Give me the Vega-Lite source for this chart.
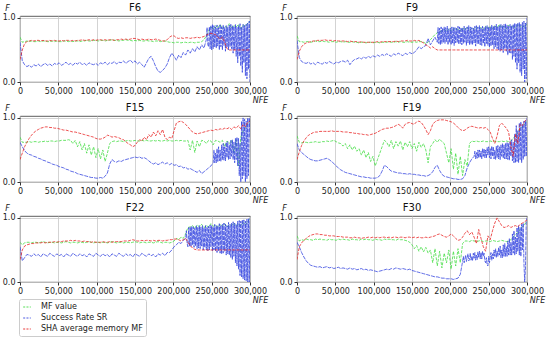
{
"$schema":"https://vega.github.io/schema/vega-lite/v6.json",
"padding":{"left":1,"top":2,"right":3,"bottom":2},
"data":{"values":[
{"p":"F6","x":0,"g":0.70,"b":0.62,"r":0.35},{"p":"F6","x":3000,"g":0.62,"b":0.33,"r":0.50},{"p":"F6","x":6000,"g":0.63,"b":0.27,"r":0.60},{"p":"F6","x":9000,"g":0.64,"b":0.24,"r":0.63},{"p":"F6","x":12000,"g":0.63,"b":0.26,"r":0.64},{"p":"F6","x":15000,"g":0.64,"b":0.23,"r":0.65},{"p":"F6","x":18000,"g":0.63,"b":0.27,"r":0.64},{"p":"F6","x":21000,"g":0.63,"b":0.25,"r":0.65},{"p":"F6","x":24000,"g":0.64,"b":0.28,"r":0.65},{"p":"F6","x":27000,"g":0.63,"b":0.24,"r":0.64},
{"p":"F6","x":30000,"g":0.64,"b":0.27,"r":0.65},{"p":"F6","x":33000,"g":0.64,"b":0.29,"r":0.64},{"p":"F6","x":36000,"g":0.63,"b":0.26,"r":0.64},{"p":"F6","x":39000,"g":0.63,"b":0.28,"r":0.65},{"p":"F6","x":42000,"g":0.64,"b":0.25,"r":0.64},{"p":"F6","x":45000,"g":0.63,"b":0.29,"r":0.65},{"p":"F6","x":48000,"g":0.64,"b":0.27,"r":0.64},{"p":"F6","x":51000,"g":0.63,"b":0.30,"r":0.64},{"p":"F6","x":54000,"g":0.63,"b":0.26,"r":0.65},{"p":"F6","x":57000,"g":0.64,"b":0.28,"r":0.64},
{"p":"F6","x":60000,"g":0.64,"b":0.31,"r":0.65},{"p":"F6","x":63000,"g":0.63,"b":0.27,"r":0.65},{"p":"F6","x":66000,"g":0.64,"b":0.29,"r":0.64},{"p":"F6","x":69000,"g":0.63,"b":0.26,"r":0.65},{"p":"F6","x":72000,"g":0.64,"b":0.30,"r":0.64},{"p":"F6","x":75000,"g":0.64,"b":0.28,"r":0.65},{"p":"F6","x":78000,"g":0.63,"b":0.31,"r":0.65},{"p":"F6","x":81000,"g":0.64,"b":0.27,"r":0.66},{"p":"F6","x":84000,"g":0.64,"b":0.29,"r":0.65},{"p":"F6","x":87000,"g":0.65,"b":0.26,"r":0.65},
{"p":"F6","x":90000,"g":0.64,"b":0.30,"r":0.66},{"p":"F6","x":93000,"g":0.64,"b":0.28,"r":0.65},{"p":"F6","x":96000,"g":0.65,"b":0.27,"r":0.66},{"p":"F6","x":99000,"g":0.65,"b":0.29,"r":0.65},{"p":"F6","x":102000,"g":0.64,"b":0.26,"r":0.66},{"p":"F6","x":105000,"g":0.65,"b":0.30,"r":0.66},{"p":"F6","x":108000,"g":0.65,"b":0.28,"r":0.65},{"p":"F6","x":111000,"g":0.64,"b":0.31,"r":0.66},{"p":"F6","x":114000,"g":0.65,"b":0.27,"r":0.65},{"p":"F6","x":117000,"g":0.65,"b":0.30,"r":0.66},
{"p":"F6","x":120000,"g":0.66,"b":0.29,"r":0.66},{"p":"F6","x":123000,"g":0.65,"b":0.32,"r":0.65},{"p":"F6","x":126000,"g":0.65,"b":0.28,"r":0.66},{"p":"F6","x":129000,"g":0.64,"b":0.31,"r":0.66},{"p":"F6","x":132000,"g":0.65,"b":0.30,"r":0.67},{"p":"F6","x":135000,"g":0.65,"b":0.33,"r":0.66},{"p":"F6","x":138000,"g":0.66,"b":0.29,"r":0.67},{"p":"F6","x":141000,"g":0.65,"b":0.32,"r":0.66},{"p":"F6","x":144000,"g":0.65,"b":0.34,"r":0.67},{"p":"F6","x":147000,"g":0.64,"b":0.30,"r":0.68},
{"p":"F6","x":150000,"g":0.65,"b":0.33,"r":0.68},{"p":"F6","x":153000,"g":0.64,"b":0.28,"r":0.67},{"p":"F6","x":156000,"g":0.65,"b":0.31,"r":0.66},{"p":"F6","x":159000,"g":0.64,"b":0.27,"r":0.67},{"p":"F6","x":162000,"g":0.64,"b":0.23,"r":0.66},{"p":"F6","x":165000,"g":0.65,"b":0.30,"r":0.66},{"p":"F6","x":168000,"g":0.64,"b":0.37,"r":0.67},{"p":"F6","x":171000,"g":0.64,"b":0.40,"r":0.66},{"p":"F6","x":174000,"g":0.63,"b":0.33,"r":0.66},{"p":"F6","x":177000,"g":0.64,"b":0.24,"r":0.67},
{"p":"F6","x":180000,"g":0.64,"b":0.17,"r":0.66},{"p":"F6","x":183000,"g":0.63,"b":0.15,"r":0.65},{"p":"F6","x":186000,"g":0.64,"b":0.18,"r":0.64},{"p":"F6","x":189000,"g":0.64,"b":0.22,"r":0.64},{"p":"F6","x":192000,"g":0.63,"b":0.28,"r":0.66},{"p":"F6","x":195000,"g":0.62,"b":0.38,"r":0.70},{"p":"F6","x":198000,"g":0.62,"b":0.45,"r":0.72},{"p":"F6","x":201000,"g":0.61,"b":0.40,"r":0.72},{"p":"F6","x":204000,"g":0.62,"b":0.34,"r":0.69},{"p":"F6","x":207000,"g":0.62,"b":0.42,"r":0.68},
{"p":"F6","x":210000,"g":0.61,"b":0.38,"r":0.69},{"p":"F6","x":213000,"g":0.62,"b":0.46,"r":0.68},{"p":"F6","x":216000,"g":0.62,"b":0.42,"r":0.69},{"p":"F6","x":219000,"g":0.61,"b":0.50,"r":0.69},{"p":"F6","x":222000,"g":0.62,"b":0.45,"r":0.68},{"p":"F6","x":225000,"g":0.62,"b":0.52,"r":0.69},{"p":"F6","x":228000,"g":0.61,"b":0.47,"r":0.69},{"p":"F6","x":231000,"g":0.62,"b":0.55,"r":0.70},{"p":"F6","x":234000,"g":0.62,"b":0.50,"r":0.69},{"p":"F6","x":237000,"g":0.63,"b":0.58,"r":0.70},
{"p":"F6","x":240000,"g":0.66,"b":0.53,"r":0.71},{"p":"F6","x":243000,"g":0.72,"b":0.66,"r":0.73},{"p":"F6","x":246000,"g":0.80,"b":0.55,"r":0.75},{"p":"F6","x":249000,"g":0.86,"b":0.88,"r":0.76},{"p":"F6","x":252000,"g":0.82,"b":0.52,"r":0.75},{"p":"F6","x":255000,"g":0.88,"b":0.86,"r":0.74},{"p":"F6","x":258000,"g":0.84,"b":0.56,"r":0.70},{"p":"F6","x":261000,"g":0.90,"b":0.90,"r":0.67},{"p":"F6","x":264000,"g":0.83,"b":0.50,"r":0.70},{"p":"F6","x":267000,"g":0.87,"b":0.85,"r":0.62},
{"p":"F6","x":270000,"g":0.85,"b":0.54,"r":0.52},{"p":"F6","x":273000,"g":0.91,"b":0.89,"r":0.50},{"p":"F6","x":276000,"g":0.84,"b":0.52,"r":0.50},{"p":"F6","x":279000,"g":0.88,"b":0.87,"r":0.50},{"p":"F6","x":282000,"g":0.86,"b":0.40,"r":0.50},{"p":"F6","x":285000,"g":0.90,"b":0.88,"r":0.50},{"p":"F6","x":288000,"g":0.83,"b":0.25,"r":0.50},{"p":"F6","x":291000,"g":0.89,"b":0.90,"r":0.50},{"p":"F6","x":294000,"g":0.87,"b":0.10,"r":0.50},{"p":"F6","x":297000,"g":0.92,"b":0.92,"r":0.50},{"p":"F6","x":300000,"g":0.95,"b":0.00,"r":0.50},
{"p":"F6","x":244000,"b":0.85},{"p":"F6","x":245000,"b":0.58},{"p":"F6","x":247000,"b":0.86},{"p":"F6","x":248000,"b":0.52},{"p":"F6","x":250000,"b":0.50},{"p":"F6","x":251000,"b":0.90},{"p":"F6","x":253000,"b":0.88},{"p":"F6","x":254000,"b":0.55},{"p":"F6","x":256000,"b":0.53},{"p":"F6","x":257000,"b":0.89},{"p":"F6","x":259000,"b":0.85},{"p":"F6","x":260000,"b":0.50},{"p":"F6","x":262000,"b":0.55},{"p":"F6","x":263000,"b":0.86},{"p":"F6","x":265000,"b":0.89},{"p":"F6","x":266000,"b":0.57},{"p":"F6","x":268000,"b":0.48},{"p":"F6","x":269000,"b":0.88},{"p":"F6","x":271000,"b":0.86},{"p":"F6","x":272000,"b":0.50},{"p":"F6","x":274000,"b":0.55},{"p":"F6","x":275000,"b":0.90},{"p":"F6","x":277000,"b":0.88},{"p":"F6","x":278000,"b":0.45},{"p":"F6","x":280000,"b":0.50},{"p":"F6","x":281000,"b":0.90},{"p":"F6","x":283000,"b":0.86},{"p":"F6","x":284000,"b":0.30},{"p":"F6","x":286000,"b":0.40},{"p":"F6","x":287000,"b":0.91},{"p":"F6","x":289000,"b":0.85},{"p":"F6","x":290000,"b":0.15},{"p":"F6","x":292000,"b":0.30},{"p":"F6","x":293000,"b":0.88},{"p":"F6","x":295000,"b":0.90},{"p":"F6","x":296000,"b":0.05},{"p":"F6","x":298000,"b":0.20},{"p":"F6","x":299000,"b":0.95},

{"p":"F9","x":0,"g":0.72,"b":0.65,"r":0.35},{"p":"F9","x":3000,"g":0.63,"b":0.38,"r":0.48},{"p":"F9","x":6000,"g":0.63,"b":0.32,"r":0.55},{"p":"F9","x":9000,"g":0.62,"b":0.30,"r":0.59},{"p":"F9","x":12000,"g":0.63,"b":0.29,"r":0.61},{"p":"F9","x":15000,"g":0.63,"b":0.31,"r":0.62},{"p":"F9","x":18000,"g":0.62,"b":0.28,"r":0.63},{"p":"F9","x":21000,"g":0.63,"b":0.30,"r":0.64},{"p":"F9","x":24000,"g":0.64,"b":0.27,"r":0.64},{"p":"F9","x":27000,"g":0.63,"b":0.31,"r":0.65},
{"p":"F9","x":30000,"g":0.63,"b":0.29,"r":0.65},{"p":"F9","x":33000,"g":0.64,"b":0.28,"r":0.65},{"p":"F9","x":36000,"g":0.63,"b":0.31,"r":0.66},{"p":"F9","x":39000,"g":0.63,"b":0.29,"r":0.65},{"p":"F9","x":42000,"g":0.62,"b":0.32,"r":0.65},{"p":"F9","x":45000,"g":0.63,"b":0.30,"r":0.65},{"p":"F9","x":48000,"g":0.63,"b":0.28,"r":0.64},{"p":"F9","x":51000,"g":0.62,"b":0.31,"r":0.65},{"p":"F9","x":54000,"g":0.63,"b":0.30,"r":0.64},{"p":"F9","x":57000,"g":0.63,"b":0.32,"r":0.64},
{"p":"F9","x":60000,"g":0.62,"b":0.33,"r":0.64},{"p":"F9","x":63000,"g":0.63,"b":0.31,"r":0.64},{"p":"F9","x":66000,"g":0.62,"b":0.34,"r":0.63},{"p":"F9","x":69000,"g":0.62,"b":0.27,"r":0.64},{"p":"F9","x":72000,"g":0.63,"b":0.32,"r":0.63},{"p":"F9","x":75000,"g":0.62,"b":0.35,"r":0.63},{"p":"F9","x":78000,"g":0.62,"b":0.36,"r":0.63},{"p":"F9","x":81000,"g":0.61,"b":0.38,"r":0.62},{"p":"F9","x":84000,"g":0.62,"b":0.36,"r":0.63},{"p":"F9","x":87000,"g":0.62,"b":0.39,"r":0.62},
{"p":"F9","x":90000,"g":0.61,"b":0.37,"r":0.62},{"p":"F9","x":93000,"g":0.62,"b":0.40,"r":0.62},{"p":"F9","x":96000,"g":0.62,"b":0.38,"r":0.62},{"p":"F9","x":99000,"g":0.61,"b":0.41,"r":0.62},{"p":"F9","x":102000,"g":0.62,"b":0.39,"r":0.62},{"p":"F9","x":105000,"g":0.62,"b":0.42,"r":0.63},{"p":"F9","x":108000,"g":0.61,"b":0.40,"r":0.62},{"p":"F9","x":111000,"g":0.62,"b":0.43,"r":0.63},{"p":"F9","x":114000,"g":0.62,"b":0.41,"r":0.63},{"p":"F9","x":117000,"g":0.62,"b":0.44,"r":0.63},
{"p":"F9","x":120000,"g":0.63,"b":0.42,"r":0.63},{"p":"F9","x":123000,"g":0.62,"b":0.40,"r":0.63},{"p":"F9","x":126000,"g":0.62,"b":0.44,"r":0.63},{"p":"F9","x":129000,"g":0.63,"b":0.42,"r":0.64},{"p":"F9","x":132000,"g":0.62,"b":0.45,"r":0.63},{"p":"F9","x":135000,"g":0.63,"b":0.43,"r":0.64},{"p":"F9","x":138000,"g":0.62,"b":0.41,"r":0.64},{"p":"F9","x":141000,"g":0.62,"b":0.45,"r":0.64},{"p":"F9","x":144000,"g":0.63,"b":0.43,"r":0.65},{"p":"F9","x":147000,"g":0.62,"b":0.46,"r":0.64},
{"p":"F9","x":150000,"g":0.62,"b":0.44,"r":0.64},{"p":"F9","x":153000,"g":0.63,"b":0.46,"r":0.65},{"p":"F9","x":156000,"g":0.62,"b":0.50,"r":0.64},{"p":"F9","x":159000,"g":0.63,"b":0.55,"r":0.65},{"p":"F9","x":162000,"g":0.63,"b":0.52,"r":0.63},{"p":"F9","x":165000,"g":0.62,"b":0.55,"r":0.61},{"p":"F9","x":168000,"g":0.60,"b":0.57,"r":0.58},{"p":"F9","x":171000,"g":0.62,"b":0.68,"r":0.56},{"p":"F9","x":174000,"g":0.66,"b":0.58,"r":0.53},{"p":"F9","x":177000,"g":0.70,"b":0.64,"r":0.55},
{"p":"F9","x":180000,"g":0.74,"b":0.70,"r":0.52},{"p":"F9","x":183000,"g":0.77,"b":0.62,"r":0.50},{"p":"F9","x":186000,"g":0.78,"b":0.84,"r":0.50},{"p":"F9","x":189000,"g":0.80,"b":0.60,"r":0.50},{"p":"F9","x":192000,"g":0.82,"b":0.86,"r":0.50},{"p":"F9","x":195000,"g":0.79,"b":0.63,"r":0.50},{"p":"F9","x":198000,"g":0.83,"b":0.83,"r":0.50},{"p":"F9","x":201000,"g":0.80,"b":0.58,"r":0.50},{"p":"F9","x":204000,"g":0.84,"b":0.85,"r":0.50},{"p":"F9","x":207000,"g":0.81,"b":0.61,"r":0.50},
{"p":"F9","x":210000,"g":0.83,"b":0.87,"r":0.50},{"p":"F9","x":213000,"g":0.80,"b":0.60,"r":0.50},{"p":"F9","x":216000,"g":0.84,"b":0.84,"r":0.50},{"p":"F9","x":219000,"g":0.82,"b":0.62,"r":0.50},{"p":"F9","x":222000,"g":0.85,"b":0.86,"r":0.50},{"p":"F9","x":225000,"g":0.81,"b":0.58,"r":0.50},{"p":"F9","x":228000,"g":0.84,"b":0.85,"r":0.50},{"p":"F9","x":231000,"g":0.82,"b":0.61,"r":0.50},{"p":"F9","x":234000,"g":0.86,"b":0.88,"r":0.50},{"p":"F9","x":237000,"g":0.83,"b":0.59,"r":0.50},
{"p":"F9","x":240000,"g":0.85,"b":0.85,"r":0.50},{"p":"F9","x":243000,"g":0.82,"b":0.60,"r":0.50},{"p":"F9","x":246000,"g":0.87,"b":0.87,"r":0.50},{"p":"F9","x":249000,"g":0.84,"b":0.57,"r":0.50},{"p":"F9","x":252000,"g":0.86,"b":0.86,"r":0.50},{"p":"F9","x":255000,"g":0.83,"b":0.58,"r":0.50},{"p":"F9","x":258000,"g":0.88,"b":0.88,"r":0.50},{"p":"F9","x":261000,"g":0.84,"b":0.52,"r":0.50},{"p":"F9","x":264000,"g":0.90,"b":0.88,"r":0.50},{"p":"F9","x":267000,"g":0.85,"b":0.50,"r":0.50},
{"p":"F9","x":270000,"g":0.87,"b":0.90,"r":0.50},{"p":"F9","x":273000,"g":0.83,"b":0.48,"r":0.50},{"p":"F9","x":276000,"g":0.89,"b":0.87,"r":0.50},{"p":"F9","x":279000,"g":0.85,"b":0.45,"r":0.50},{"p":"F9","x":282000,"g":0.88,"b":0.90,"r":0.50},{"p":"F9","x":285000,"g":0.84,"b":0.30,"r":0.50},{"p":"F9","x":288000,"g":0.90,"b":0.92,"r":0.50},{"p":"F9","x":291000,"g":0.86,"b":0.15,"r":0.50},{"p":"F9","x":294000,"g":0.88,"b":0.93,"r":0.50},{"p":"F9","x":297000,"g":0.85,"b":0.00,"r":0.50},{"p":"F9","x":300000,"g":0.92,"b":1.00,"r":0.50},
{"p":"F9","x":184000,"b":0.85},{"p":"F9","x":185000,"b":0.60},{"p":"F9","x":187000,"b":0.58},{"p":"F9","x":188000,"b":0.86},{"p":"F9","x":190000,"b":0.84},{"p":"F9","x":191000,"b":0.62},{"p":"F9","x":193000,"b":0.60},{"p":"F9","x":194000,"b":0.85},{"p":"F9","x":196000,"b":0.87},{"p":"F9","x":197000,"b":0.58},{"p":"F9","x":199000,"b":0.62},{"p":"F9","x":200000,"b":0.84},{"p":"F9","x":202000,"b":0.86},{"p":"F9","x":203000,"b":0.60},{"p":"F9","x":205000,"b":0.57},{"p":"F9","x":206000,"b":0.85},{"p":"F9","x":208000,"b":0.84},{"p":"F9","x":209000,"b":0.62},{"p":"F9","x":211000,"b":0.59},{"p":"F9","x":212000,"b":0.86},{"p":"F9","x":214000,"b":0.85},{"p":"F9","x":215000,"b":0.58},{"p":"F9","x":217000,"b":0.60},{"p":"F9","x":218000,"b":0.87},{"p":"F9","x":220000,"b":0.84},{"p":"F9","x":221000,"b":0.57},{"p":"F9","x":223000,"b":0.61},{"p":"F9","x":224000,"b":0.88},{"p":"F9","x":226000,"b":0.86},{"p":"F9","x":227000,"b":0.59},{"p":"F9","x":229000,"b":0.58},{"p":"F9","x":230000,"b":0.84},{"p":"F9","x":232000,"b":0.87},{"p":"F9","x":233000,"b":0.56},{"p":"F9","x":235000,"b":0.60},{"p":"F9","x":236000,"b":0.86},{"p":"F9","x":238000,"b":0.88},{"p":"F9","x":239000,"b":0.58},
{"p":"F9","x":241000,"b":0.57},{"p":"F9","x":242000,"b":0.87},{"p":"F9","x":244000,"b":0.85},{"p":"F9","x":245000,"b":0.55},{"p":"F9","x":247000,"b":0.60},{"p":"F9","x":248000,"b":0.88},{"p":"F9","x":250000,"b":0.86},{"p":"F9","x":251000,"b":0.54},{"p":"F9","x":253000,"b":0.56},{"p":"F9","x":254000,"b":0.89},{"p":"F9","x":256000,"b":0.87},{"p":"F9","x":257000,"b":0.52},{"p":"F9","x":259000,"b":0.55},{"p":"F9","x":260000,"b":0.90},{"p":"F9","x":262000,"b":0.87},{"p":"F9","x":263000,"b":0.50},{"p":"F9","x":265000,"b":0.48},{"p":"F9","x":266000,"b":0.90},{"p":"F9","x":268000,"b":0.88},{"p":"F9","x":269000,"b":0.46},{"p":"F9","x":271000,"b":0.52},{"p":"F9","x":272000,"b":0.91},{"p":"F9","x":274000,"b":0.89},{"p":"F9","x":275000,"b":0.42},{"p":"F9","x":277000,"b":0.45},{"p":"F9","x":278000,"b":0.90},{"p":"F9","x":280000,"b":0.88},{"p":"F9","x":281000,"b":0.35},{"p":"F9","x":283000,"b":0.40},{"p":"F9","x":284000,"b":0.92},{"p":"F9","x":286000,"b":0.90},{"p":"F9","x":287000,"b":0.20},{"p":"F9","x":289000,"b":0.30},{"p":"F9","x":290000,"b":0.93},{"p":"F9","x":292000,"b":0.90},{"p":"F9","x":293000,"b":0.10},{"p":"F9","x":295000,"b":0.20},{"p":"F9","x":296000,"b":0.95},{"p":"F9","x":298000,"b":0.92},{"p":"F9","x":299000,"b":0.05},

{"p":"F15","x":0,"g":0.70,"b":0.62,"r":0.35},{"p":"F15","x":3000,"g":0.62,"b":0.55,"r":0.45},{"p":"F15","x":6000,"g":0.62,"b":0.49,"r":0.55},{"p":"F15","x":9000,"g":0.62,"b":0.45,"r":0.62},{"p":"F15","x":12000,"g":0.63,"b":0.43,"r":0.68},{"p":"F15","x":15000,"g":0.62,"b":0.42,"r":0.73},{"p":"F15","x":18000,"g":0.63,"b":0.40,"r":0.77},{"p":"F15","x":21000,"g":0.63,"b":0.39,"r":0.80},{"p":"F15","x":24000,"g":0.62,"b":0.37,"r":0.82},{"p":"F15","x":27000,"g":0.63,"b":0.36,"r":0.84},
{"p":"F15","x":30000,"g":0.63,"b":0.34,"r":0.85},{"p":"F15","x":33000,"g":0.64,"b":0.33,"r":0.86},{"p":"F15","x":36000,"g":0.63,"b":0.31,"r":0.86},{"p":"F15","x":39000,"g":0.64,"b":0.30,"r":0.85},{"p":"F15","x":42000,"g":0.64,"b":0.28,"r":0.85},{"p":"F15","x":45000,"g":0.63,"b":0.27,"r":0.84},{"p":"F15","x":48000,"g":0.64,"b":0.26,"r":0.84},{"p":"F15","x":51000,"g":0.64,"b":0.24,"r":0.83},{"p":"F15","x":54000,"g":0.65,"b":0.23,"r":0.82},{"p":"F15","x":57000,"g":0.65,"b":0.22,"r":0.81},
{"p":"F15","x":60000,"g":0.65,"b":0.20,"r":0.81},{"p":"F15","x":63000,"g":0.66,"b":0.19,"r":0.80},{"p":"F15","x":66000,"g":0.65,"b":0.17,"r":0.79},{"p":"F15","x":69000,"g":0.60,"b":0.16,"r":0.78},{"p":"F15","x":72000,"g":0.65,"b":0.15,"r":0.78},{"p":"F15","x":75000,"g":0.55,"b":0.13,"r":0.77},{"p":"F15","x":78000,"g":0.63,"b":0.12,"r":0.76},{"p":"F15","x":81000,"g":0.50,"b":0.11,"r":0.75},{"p":"F15","x":84000,"g":0.60,"b":0.10,"r":0.74},{"p":"F15","x":87000,"g":0.45,"b":0.09,"r":0.73},
{"p":"F15","x":90000,"g":0.58,"b":0.08,"r":0.72},{"p":"F15","x":93000,"g":0.42,"b":0.07,"r":0.71},{"p":"F15","x":96000,"g":0.55,"b":0.07,"r":0.70},{"p":"F15","x":99000,"g":0.38,"b":0.06,"r":0.68},{"p":"F15","x":102000,"g":0.52,"b":0.06,"r":0.67},{"p":"F15","x":105000,"g":0.36,"b":0.07,"r":0.67},{"p":"F15","x":108000,"g":0.50,"b":0.06,"r":0.68},{"p":"F15","x":111000,"g":0.32,"b":0.09,"r":0.70},{"p":"F15","x":114000,"g":0.45,"b":0.14,"r":0.73},{"p":"F15","x":117000,"g":0.60,"b":0.28,"r":0.72},
{"p":"F15","x":120000,"g":0.63,"b":0.35,"r":0.70},{"p":"F15","x":123000,"g":0.64,"b":0.32,"r":0.71},{"p":"F15","x":126000,"g":0.63,"b":0.31,"r":0.70},{"p":"F15","x":129000,"g":0.64,"b":0.33,"r":0.69},{"p":"F15","x":132000,"g":0.64,"b":0.32,"r":0.67},{"p":"F15","x":135000,"g":0.63,"b":0.34,"r":0.66},{"p":"F15","x":138000,"g":0.64,"b":0.35,"r":0.63},{"p":"F15","x":141000,"g":0.65,"b":0.36,"r":0.60},{"p":"F15","x":144000,"g":0.64,"b":0.37,"r":0.58},{"p":"F15","x":147000,"g":0.64,"b":0.38,"r":0.55},
{"p":"F15","x":150000,"g":0.65,"b":0.39,"r":0.57},{"p":"F15","x":153000,"g":0.64,"b":0.38,"r":0.62},{"p":"F15","x":156000,"g":0.64,"b":0.39,"r":0.66},{"p":"F15","x":159000,"g":0.65,"b":0.37,"r":0.64},{"p":"F15","x":162000,"g":0.64,"b":0.38,"r":0.70},{"p":"F15","x":165000,"g":0.65,"b":0.36,"r":0.66},{"p":"F15","x":168000,"g":0.64,"b":0.33,"r":0.74},{"p":"F15","x":171000,"g":0.64,"b":0.30,"r":0.70},{"p":"F15","x":174000,"g":0.65,"b":0.28,"r":0.78},{"p":"F15","x":177000,"g":0.64,"b":0.30,"r":0.72},
{"p":"F15","x":180000,"g":0.65,"b":0.27,"r":0.80},{"p":"F15","x":183000,"g":0.64,"b":0.29,"r":0.74},{"p":"F15","x":186000,"g":0.64,"b":0.31,"r":0.82},{"p":"F15","x":189000,"g":0.65,"b":0.28,"r":0.70},{"p":"F15","x":192000,"g":0.64,"b":0.30,"r":0.66},{"p":"F15","x":195000,"g":0.65,"b":0.27,"r":0.70},{"p":"F15","x":198000,"g":0.64,"b":0.29,"r":0.68},{"p":"F15","x":201000,"g":0.64,"b":0.26,"r":0.80},{"p":"F15","x":204000,"g":0.65,"b":0.27,"r":0.92},{"p":"F15","x":207000,"g":0.64,"b":0.24,"r":0.94},
{"p":"F15","x":210000,"g":0.65,"b":0.25,"r":0.95},{"p":"F15","x":213000,"g":0.64,"b":0.22,"r":0.93},{"p":"F15","x":216000,"g":0.64,"b":0.23,"r":0.90},{"p":"F15","x":219000,"g":0.65,"b":0.20,"r":0.86},{"p":"F15","x":222000,"g":0.50,"b":0.21,"r":0.82},{"p":"F15","x":225000,"g":0.65,"b":0.19,"r":0.78},{"p":"F15","x":228000,"g":0.46,"b":0.17,"r":0.76},{"p":"F15","x":231000,"g":0.64,"b":0.15,"r":0.75},{"p":"F15","x":234000,"g":0.55,"b":0.18,"r":0.76},{"p":"F15","x":237000,"g":0.65,"b":0.13,"r":0.77},
{"p":"F15","x":240000,"g":0.64,"b":0.16,"r":0.78},{"p":"F15","x":243000,"g":0.60,"b":0.19,"r":0.79},{"p":"F15","x":246000,"g":0.65,"b":0.22,"r":0.80},{"p":"F15","x":249000,"g":0.64,"b":0.25,"r":0.81},{"p":"F15","x":252000,"g":0.58,"b":0.30,"r":0.80},{"p":"F15","x":255000,"g":0.65,"b":0.45,"r":0.82},{"p":"F15","x":258000,"g":0.64,"b":0.32,"r":0.81},{"p":"F15","x":261000,"g":0.62,"b":0.50,"r":0.83},{"p":"F15","x":264000,"g":0.65,"b":0.35,"r":0.82},{"p":"F15","x":267000,"g":0.55,"b":0.55,"r":0.84},
{"p":"F15","x":270000,"g":0.64,"b":0.38,"r":0.83},{"p":"F15","x":273000,"g":0.60,"b":0.58,"r":0.85},{"p":"F15","x":276000,"g":0.65,"b":0.40,"r":0.82},{"p":"F15","x":279000,"g":0.45,"b":0.62,"r":0.86},{"p":"F15","x":282000,"g":0.66,"b":0.35,"r":0.84},{"p":"F15","x":285000,"g":0.25,"b":0.68,"r":0.88},{"p":"F15","x":288000,"g":0.70,"b":0.00,"r":0.83},{"p":"F15","x":291000,"g":0.80,"b":1.00,"r":0.90},{"p":"F15","x":294000,"g":0.85,"b":0.00,"r":0.86},{"p":"F15","x":297000,"g":0.90,"b":1.00,"r":0.93},{"p":"F15","x":300000,"g":0.95,"b":0.70,"r":0.95},
{"p":"F15","x":253000,"b":0.50},{"p":"F15","x":254000,"b":0.30},{"p":"F15","x":256000,"b":0.30},{"p":"F15","x":257000,"b":0.52},{"p":"F15","x":259000,"b":0.55},{"p":"F15","x":260000,"b":0.33},{"p":"F15","x":262000,"b":0.32},{"p":"F15","x":263000,"b":0.58},{"p":"F15","x":265000,"b":0.60},{"p":"F15","x":266000,"b":0.34},{"p":"F15","x":268000,"b":0.33},{"p":"F15","x":269000,"b":0.62},{"p":"F15","x":271000,"b":0.63},{"p":"F15","x":272000,"b":0.35},{"p":"F15","x":274000,"b":0.36},{"p":"F15","x":275000,"b":0.65},{"p":"F15","x":277000,"b":0.66},{"p":"F15","x":278000,"b":0.35},{"p":"F15","x":280000,"b":0.30},{"p":"F15","x":281000,"b":0.68},{"p":"F15","x":283000,"b":0.70},{"p":"F15","x":284000,"b":0.25},{"p":"F15","x":286000,"b":0.10},{"p":"F15","x":287000,"b":0.60},{"p":"F15","x":289000,"b":0.95},{"p":"F15","x":290000,"b":0.05},{"p":"F15","x":292000,"b":0.10},{"p":"F15","x":293000,"b":0.98},{"p":"F15","x":295000,"b":0.95},{"p":"F15","x":296000,"b":0.05},{"p":"F15","x":298000,"b":0.10},{"p":"F15","x":299000,"b":1.00},

{"p":"F19","x":0,"g":0.72,"b":0.60,"r":0.35},{"p":"F19","x":3000,"g":0.62,"b":0.50,"r":0.47},{"p":"F19","x":6000,"g":0.61,"b":0.46,"r":0.57},{"p":"F19","x":9000,"g":0.62,"b":0.43,"r":0.64},{"p":"F19","x":12000,"g":0.62,"b":0.40,"r":0.69},{"p":"F19","x":15000,"g":0.61,"b":0.37,"r":0.73},{"p":"F19","x":18000,"g":0.62,"b":0.35,"r":0.75},{"p":"F19","x":21000,"g":0.62,"b":0.34,"r":0.77},{"p":"F19","x":24000,"g":0.63,"b":0.33,"r":0.78},{"p":"F19","x":27000,"g":0.62,"b":0.33,"r":0.78},
{"p":"F19","x":30000,"g":0.62,"b":0.34,"r":0.79},{"p":"F19","x":33000,"g":0.63,"b":0.35,"r":0.79},{"p":"F19","x":36000,"g":0.63,"b":0.36,"r":0.79},{"p":"F19","x":39000,"g":0.64,"b":0.37,"r":0.79},{"p":"F19","x":42000,"g":0.63,"b":0.35,"r":0.79},{"p":"F19","x":45000,"g":0.64,"b":0.32,"r":0.80},{"p":"F19","x":48000,"g":0.65,"b":0.29,"r":0.79},{"p":"F19","x":51000,"g":0.63,"b":0.25,"r":0.79},{"p":"F19","x":54000,"g":0.61,"b":0.22,"r":0.79},{"p":"F19","x":57000,"g":0.60,"b":0.19,"r":0.79},
{"p":"F19","x":60000,"g":0.56,"b":0.17,"r":0.78},{"p":"F19","x":63000,"g":0.60,"b":0.15,"r":0.78},{"p":"F19","x":66000,"g":0.52,"b":0.14,"r":0.78},{"p":"F19","x":69000,"g":0.58,"b":0.13,"r":0.77},{"p":"F19","x":72000,"g":0.50,"b":0.12,"r":0.77},{"p":"F19","x":75000,"g":0.56,"b":0.11,"r":0.76},{"p":"F19","x":78000,"g":0.48,"b":0.10,"r":0.76},{"p":"F19","x":81000,"g":0.52,"b":0.09,"r":0.75},{"p":"F19","x":84000,"g":0.42,"b":0.08,"r":0.75},{"p":"F19","x":87000,"g":0.50,"b":0.08,"r":0.74},
{"p":"F19","x":90000,"g":0.38,"b":0.07,"r":0.74},{"p":"F19","x":93000,"g":0.46,"b":0.07,"r":0.73},{"p":"F19","x":96000,"g":0.32,"b":0.06,"r":0.74},{"p":"F19","x":99000,"g":0.40,"b":0.06,"r":0.75},{"p":"F19","x":102000,"g":0.25,"b":0.06,"r":0.76},{"p":"F19","x":105000,"g":0.35,"b":0.07,"r":0.78},{"p":"F19","x":108000,"g":0.45,"b":0.10,"r":0.80},{"p":"F19","x":111000,"g":0.55,"b":0.17,"r":0.82},{"p":"F19","x":114000,"g":0.65,"b":0.26,"r":0.83},{"p":"F19","x":117000,"g":0.62,"b":0.24,"r":0.84},
{"p":"F19","x":120000,"g":0.55,"b":0.20,"r":0.84},{"p":"F19","x":123000,"g":0.65,"b":0.17,"r":0.85},{"p":"F19","x":126000,"g":0.52,"b":0.16,"r":0.86},{"p":"F19","x":129000,"g":0.63,"b":0.15,"r":0.88},{"p":"F19","x":132000,"g":0.56,"b":0.14,"r":0.90},{"p":"F19","x":135000,"g":0.64,"b":0.14,"r":0.88},{"p":"F19","x":138000,"g":0.50,"b":0.13,"r":0.84},{"p":"F19","x":141000,"g":0.62,"b":0.13,"r":0.90},{"p":"F19","x":144000,"g":0.55,"b":0.12,"r":0.92},{"p":"F19","x":147000,"g":0.63,"b":0.13,"r":0.93},
{"p":"F19","x":150000,"g":0.52,"b":0.12,"r":0.91},{"p":"F19","x":153000,"g":0.60,"b":0.12,"r":0.90},{"p":"F19","x":156000,"g":0.48,"b":0.11,"r":0.94},{"p":"F19","x":159000,"g":0.62,"b":0.11,"r":0.95},{"p":"F19","x":162000,"g":0.54,"b":0.10,"r":0.93},{"p":"F19","x":165000,"g":0.60,"b":0.10,"r":0.88},{"p":"F19","x":168000,"g":0.50,"b":0.09,"r":0.82},{"p":"F19","x":171000,"g":0.30,"b":0.10,"r":0.74},{"p":"F19","x":174000,"g":0.55,"b":0.12,"r":0.80},{"p":"F19","x":177000,"g":0.60,"b":0.16,"r":0.90},
{"p":"F19","x":180000,"g":0.66,"b":0.23,"r":0.94},{"p":"F19","x":183000,"g":0.62,"b":0.26,"r":0.96},{"p":"F19","x":186000,"g":0.67,"b":0.18,"r":0.97},{"p":"F19","x":189000,"g":0.63,"b":0.12,"r":0.97},{"p":"F19","x":192000,"g":0.60,"b":0.09,"r":0.97},{"p":"F19","x":195000,"g":0.45,"b":0.08,"r":0.96},{"p":"F19","x":198000,"g":0.30,"b":0.07,"r":0.95},{"p":"F19","x":201000,"g":0.52,"b":0.06,"r":0.94},{"p":"F19","x":204000,"g":0.20,"b":0.05,"r":0.92},{"p":"F19","x":207000,"g":0.45,"b":0.05,"r":0.89},
{"p":"F19","x":210000,"g":0.12,"b":0.04,"r":0.85},{"p":"F19","x":213000,"g":0.40,"b":0.04,"r":0.82},{"p":"F19","x":216000,"g":0.10,"b":0.05,"r":0.80},{"p":"F19","x":219000,"g":0.35,"b":0.10,"r":0.81},{"p":"F19","x":222000,"g":0.25,"b":0.22,"r":0.84},{"p":"F19","x":225000,"g":0.60,"b":0.30,"r":0.86},{"p":"F19","x":228000,"g":0.64,"b":0.36,"r":0.87},{"p":"F19","x":231000,"g":0.63,"b":0.40,"r":0.86},{"p":"F19","x":234000,"g":0.64,"b":0.46,"r":0.85},{"p":"F19","x":237000,"g":0.63,"b":0.38,"r":0.84},
{"p":"F19","x":240000,"g":0.63,"b":0.48,"r":0.85},{"p":"F19","x":243000,"g":0.64,"b":0.40,"r":0.84},{"p":"F19","x":246000,"g":0.63,"b":0.50,"r":0.85},{"p":"F19","x":249000,"g":0.63,"b":0.42,"r":0.82},{"p":"F19","x":252000,"g":0.64,"b":0.52,"r":0.78},{"p":"F19","x":255000,"g":0.63,"b":0.40,"r":0.68},{"p":"F19","x":258000,"g":0.64,"b":0.50,"r":0.60},{"p":"F19","x":261000,"g":0.63,"b":0.38,"r":0.72},{"p":"F19","x":264000,"g":0.63,"b":0.55,"r":0.88},{"p":"F19","x":267000,"g":0.64,"b":0.40,"r":0.92},
{"p":"F19","x":270000,"g":0.63,"b":0.58,"r":0.88},{"p":"F19","x":273000,"g":0.64,"b":0.36,"r":0.84},{"p":"F19","x":276000,"g":0.63,"b":0.60,"r":0.78},{"p":"F19","x":279000,"g":0.64,"b":0.40,"r":0.55},{"p":"F19","x":282000,"g":0.68,"b":0.62,"r":0.40},{"p":"F19","x":285000,"g":0.72,"b":0.30,"r":0.75},{"p":"F19","x":288000,"g":0.78,"b":0.80,"r":0.60},{"p":"F19","x":291000,"g":0.82,"b":0.35,"r":0.90},{"p":"F19","x":294000,"g":0.86,"b":0.90,"r":0.88},{"p":"F19","x":297000,"g":0.90,"b":0.40,"r":0.95},{"p":"F19","x":300000,"g":0.95,"b":1.00,"r":0.98},
{"p":"F19","x":232000,"b":0.48},{"p":"F19","x":233000,"b":0.36},{"p":"F19","x":235000,"b":0.37},{"p":"F19","x":236000,"b":0.50},{"p":"F19","x":238000,"b":0.50},{"p":"F19","x":239000,"b":0.38},{"p":"F19","x":241000,"b":0.36},{"p":"F19","x":242000,"b":0.52},{"p":"F19","x":244000,"b":0.52},{"p":"F19","x":245000,"b":0.38},{"p":"F19","x":247000,"b":0.37},{"p":"F19","x":248000,"b":0.54},{"p":"F19","x":250000,"b":0.55},{"p":"F19","x":251000,"b":0.38},{"p":"F19","x":253000,"b":0.36},{"p":"F19","x":254000,"b":0.56},{"p":"F19","x":256000,"b":0.55},{"p":"F19","x":257000,"b":0.36},{"p":"F19","x":259000,"b":0.35},{"p":"F19","x":260000,"b":0.56},{"p":"F19","x":262000,"b":0.57},{"p":"F19","x":263000,"b":0.36},{"p":"F19","x":265000,"b":0.35},{"p":"F19","x":266000,"b":0.58},{"p":"F19","x":268000,"b":0.60},{"p":"F19","x":269000,"b":0.37},{"p":"F19","x":271000,"b":0.36},{"p":"F19","x":272000,"b":0.60},{"p":"F19","x":274000,"b":0.62},{"p":"F19","x":275000,"b":0.35},{"p":"F19","x":277000,"b":0.34},{"p":"F19","x":278000,"b":0.64},{"p":"F19","x":280000,"b":0.66},{"p":"F19","x":281000,"b":0.33},{"p":"F19","x":283000,"b":0.30},{"p":"F19","x":284000,"b":0.75},{"p":"F19","x":286000,"b":0.88},{"p":"F19","x":287000,"b":0.32},{"p":"F19","x":289000,"b":0.30},{"p":"F19","x":290000,"b":0.92},{"p":"F19","x":292000,"b":0.94},{"p":"F19","x":293000,"b":0.30},{"p":"F19","x":295000,"b":0.35},{"p":"F19","x":296000,"b":0.95},{"p":"F19","x":298000,"b":0.96},{"p":"F19","x":299000,"b":0.40},

{"p":"F22","x":0,"g":0.62,"b":0.55,"r":0.35},{"p":"F22","x":3000,"g":0.58,"b":0.33,"r":0.50},{"p":"F22","x":6000,"g":0.61,"b":0.38,"r":0.56},{"p":"F22","x":9000,"g":0.62,"b":0.43,"r":0.58},{"p":"F22","x":12000,"g":0.62,"b":0.42,"r":0.59},{"p":"F22","x":15000,"g":0.61,"b":0.40,"r":0.60},{"p":"F22","x":18000,"g":0.62,"b":0.44,"r":0.60},{"p":"F22","x":21000,"g":0.62,"b":0.41,"r":0.61},{"p":"F22","x":24000,"g":0.61,"b":0.43,"r":0.61},{"p":"F22","x":27000,"g":0.62,"b":0.39,"r":0.61},
{"p":"F22","x":30000,"g":0.63,"b":0.44,"r":0.62},{"p":"F22","x":33000,"g":0.62,"b":0.42,"r":0.61},{"p":"F22","x":36000,"g":0.61,"b":0.40,"r":0.62},{"p":"F22","x":39000,"g":0.62,"b":0.45,"r":0.62},{"p":"F22","x":42000,"g":0.62,"b":0.42,"r":0.62},{"p":"F22","x":45000,"g":0.61,"b":0.40,"r":0.63},{"p":"F22","x":48000,"g":0.62,"b":0.44,"r":0.62},{"p":"F22","x":51000,"g":0.62,"b":0.41,"r":0.63},{"p":"F22","x":54000,"g":0.61,"b":0.43,"r":0.63},{"p":"F22","x":57000,"g":0.62,"b":0.39,"r":0.64},
{"p":"F22","x":60000,"g":0.63,"b":0.44,"r":0.64},{"p":"F22","x":63000,"g":0.62,"b":0.42,"r":0.64},{"p":"F22","x":66000,"g":0.61,"b":0.40,"r":0.65},{"p":"F22","x":69000,"g":0.62,"b":0.45,"r":0.64},{"p":"F22","x":72000,"g":0.62,"b":0.42,"r":0.65},{"p":"F22","x":75000,"g":0.61,"b":0.40,"r":0.64},{"p":"F22","x":78000,"g":0.62,"b":0.44,"r":0.64},{"p":"F22","x":81000,"g":0.62,"b":0.41,"r":0.63},{"p":"F22","x":84000,"g":0.61,"b":0.43,"r":0.64},{"p":"F22","x":87000,"g":0.62,"b":0.39,"r":0.63},
{"p":"F22","x":90000,"g":0.63,"b":0.44,"r":0.63},{"p":"F22","x":93000,"g":0.62,"b":0.42,"r":0.62},{"p":"F22","x":96000,"g":0.61,"b":0.40,"r":0.63},{"p":"F22","x":99000,"g":0.62,"b":0.45,"r":0.62},{"p":"F22","x":102000,"g":0.62,"b":0.42,"r":0.62},{"p":"F22","x":105000,"g":0.61,"b":0.40,"r":0.62},{"p":"F22","x":108000,"g":0.62,"b":0.44,"r":0.63},{"p":"F22","x":111000,"g":0.62,"b":0.41,"r":0.62},{"p":"F22","x":114000,"g":0.61,"b":0.43,"r":0.62},{"p":"F22","x":117000,"g":0.62,"b":0.39,"r":0.63},
{"p":"F22","x":120000,"g":0.63,"b":0.44,"r":0.62},{"p":"F22","x":123000,"g":0.62,"b":0.42,"r":0.63},{"p":"F22","x":126000,"g":0.61,"b":0.40,"r":0.63},{"p":"F22","x":129000,"g":0.62,"b":0.45,"r":0.63},{"p":"F22","x":132000,"g":0.62,"b":0.42,"r":0.63},{"p":"F22","x":135000,"g":0.61,"b":0.40,"r":0.64},{"p":"F22","x":138000,"g":0.62,"b":0.44,"r":0.64},{"p":"F22","x":141000,"g":0.62,"b":0.41,"r":0.64},{"p":"F22","x":144000,"g":0.61,"b":0.43,"r":0.65},{"p":"F22","x":147000,"g":0.62,"b":0.39,"r":0.66},
{"p":"F22","x":150000,"g":0.63,"b":0.44,"r":0.65},{"p":"F22","x":153000,"g":0.62,"b":0.42,"r":0.64},{"p":"F22","x":156000,"g":0.61,"b":0.40,"r":0.64},{"p":"F22","x":159000,"g":0.62,"b":0.45,"r":0.65},{"p":"F22","x":162000,"g":0.62,"b":0.42,"r":0.64},{"p":"F22","x":165000,"g":0.61,"b":0.40,"r":0.65},{"p":"F22","x":168000,"g":0.62,"b":0.44,"r":0.65},{"p":"F22","x":171000,"g":0.62,"b":0.41,"r":0.64},{"p":"F22","x":174000,"g":0.61,"b":0.43,"r":0.65},{"p":"F22","x":177000,"g":0.62,"b":0.39,"r":0.64},
{"p":"F22","x":180000,"g":0.63,"b":0.44,"r":0.65},{"p":"F22","x":183000,"g":0.62,"b":0.42,"r":0.65},{"p":"F22","x":186000,"g":0.61,"b":0.45,"r":0.64},{"p":"F22","x":189000,"g":0.62,"b":0.41,"r":0.65},{"p":"F22","x":192000,"g":0.62,"b":0.46,"r":0.65},{"p":"F22","x":195000,"g":0.61,"b":0.46,"r":0.66},{"p":"F22","x":198000,"g":0.62,"b":0.50,"r":0.66},{"p":"F22","x":201000,"g":0.64,"b":0.55,"r":0.67},{"p":"F22","x":204000,"g":0.68,"b":0.58,"r":0.67},{"p":"F22","x":207000,"g":0.66,"b":0.62,"r":0.66},
{"p":"F22","x":210000,"g":0.70,"b":0.60,"r":0.64},{"p":"F22","x":213000,"g":0.68,"b":0.65,"r":0.66},{"p":"F22","x":216000,"g":0.75,"b":0.68,"r":0.68},{"p":"F22","x":219000,"g":0.85,"b":0.55,"r":0.62},{"p":"F22","x":222000,"g":0.86,"b":0.86,"r":0.57},{"p":"F22","x":225000,"g":0.88,"b":0.58,"r":0.53},{"p":"F22","x":228000,"g":0.84,"b":0.84,"r":0.51},{"p":"F22","x":231000,"g":0.89,"b":0.52,"r":0.50},{"p":"F22","x":234000,"g":0.86,"b":0.88,"r":0.50},{"p":"F22","x":237000,"g":0.90,"b":0.56,"r":0.50},
{"p":"F22","x":240000,"g":0.85,"b":0.85,"r":0.50},{"p":"F22","x":243000,"g":0.88,"b":0.50,"r":0.50},{"p":"F22","x":246000,"g":0.86,"b":0.87,"r":0.50},{"p":"F22","x":249000,"g":0.91,"b":0.55,"r":0.50},{"p":"F22","x":252000,"g":0.87,"b":0.86,"r":0.50},{"p":"F22","x":255000,"g":0.89,"b":0.48,"r":0.50},{"p":"F22","x":258000,"g":0.85,"b":0.88,"r":0.50},{"p":"F22","x":261000,"g":0.90,"b":0.45,"r":0.50},{"p":"F22","x":264000,"g":0.87,"b":0.90,"r":0.50},{"p":"F22","x":267000,"g":0.91,"b":0.48,"r":0.50},
{"p":"F22","x":270000,"g":0.86,"b":0.88,"r":0.50},{"p":"F22","x":273000,"g":0.89,"b":0.42,"r":0.50},{"p":"F22","x":276000,"g":0.88,"b":0.92,"r":0.50},{"p":"F22","x":279000,"g":0.92,"b":0.40,"r":0.50},{"p":"F22","x":282000,"g":0.87,"b":0.90,"r":0.50},{"p":"F22","x":285000,"g":0.90,"b":0.20,"r":0.50},{"p":"F22","x":288000,"g":0.88,"b":0.95,"r":0.50},{"p":"F22","x":291000,"g":0.93,"b":0.05,"r":0.50},{"p":"F22","x":294000,"g":0.89,"b":0.95,"r":0.50},{"p":"F22","x":297000,"g":0.95,"b":0.00,"r":0.50},{"p":"F22","x":300000,"g":0.98,"b":1.00,"r":0.50},
{"p":"F22","x":217000,"b":0.80},{"p":"F22","x":218000,"b":0.60},{"p":"F22","x":220000,"b":0.85},{"p":"F22","x":221000,"b":0.56},{"p":"F22","x":223000,"b":0.55},{"p":"F22","x":224000,"b":0.87},{"p":"F22","x":226000,"b":0.86},{"p":"F22","x":227000,"b":0.54},{"p":"F22","x":229000,"b":0.56},{"p":"F22","x":230000,"b":0.88},{"p":"F22","x":232000,"b":0.86},{"p":"F22","x":233000,"b":0.53},{"p":"F22","x":235000,"b":0.52},{"p":"F22","x":236000,"b":0.86},{"p":"F22","x":238000,"b":0.88},{"p":"F22","x":239000,"b":0.50},{"p":"F22","x":241000,"b":0.54},{"p":"F22","x":242000,"b":0.88},{"p":"F22","x":244000,"b":0.86},{"p":"F22","x":245000,"b":0.49},{"p":"F22","x":247000,"b":0.50},{"p":"F22","x":248000,"b":0.89},{"p":"F22","x":250000,"b":0.88},{"p":"F22","x":251000,"b":0.48},{"p":"F22","x":253000,"b":0.50},{"p":"F22","x":254000,"b":0.90},{"p":"F22","x":256000,"b":0.88},{"p":"F22","x":257000,"b":0.46},{"p":"F22","x":259000,"b":0.48},{"p":"F22","x":260000,"b":0.91},{"p":"F22","x":262000,"b":0.89},{"p":"F22","x":263000,"b":0.44},{"p":"F22","x":265000,"b":0.45},{"p":"F22","x":266000,"b":0.92},{"p":"F22","x":268000,"b":0.90},{"p":"F22","x":269000,"b":0.42},{"p":"F22","x":271000,"b":0.44},{"p":"F22","x":272000,"b":0.93},
{"p":"F22","x":274000,"b":0.90},{"p":"F22","x":275000,"b":0.38},{"p":"F22","x":277000,"b":0.35},{"p":"F22","x":278000,"b":0.94},{"p":"F22","x":280000,"b":0.92},{"p":"F22","x":281000,"b":0.30},{"p":"F22","x":283000,"b":0.25},{"p":"F22","x":284000,"b":0.95},{"p":"F22","x":286000,"b":0.96},{"p":"F22","x":287000,"b":0.10},{"p":"F22","x":289000,"b":0.08},{"p":"F22","x":290000,"b":0.97},{"p":"F22","x":292000,"b":0.97},{"p":"F22","x":293000,"b":0.03},{"p":"F22","x":295000,"b":0.02},{"p":"F22","x":296000,"b":0.98},{"p":"F22","x":298000,"b":0.99},{"p":"F22","x":299000,"b":0.00},

{"p":"F30","x":0,"g":0.72,"b":0.62,"r":0.35},{"p":"F30","x":3000,"g":0.64,"b":0.55,"r":0.55},{"p":"F30","x":6000,"g":0.66,"b":0.46,"r":0.61},{"p":"F30","x":9000,"g":0.65,"b":0.39,"r":0.65},{"p":"F30","x":12000,"g":0.67,"b":0.33,"r":0.68},{"p":"F30","x":15000,"g":0.66,"b":0.29,"r":0.71},{"p":"F30","x":18000,"g":0.66,"b":0.26,"r":0.73},{"p":"F30","x":21000,"g":0.65,"b":0.25,"r":0.74},{"p":"F30","x":24000,"g":0.67,"b":0.24,"r":0.75},{"p":"F30","x":27000,"g":0.66,"b":0.23,"r":0.75},
{"p":"F30","x":30000,"g":0.67,"b":0.24,"r":0.74},{"p":"F30","x":33000,"g":0.66,"b":0.22,"r":0.74},{"p":"F30","x":36000,"g":0.66,"b":0.23,"r":0.73},{"p":"F30","x":39000,"g":0.65,"b":0.24,"r":0.73},{"p":"F30","x":42000,"g":0.67,"b":0.22,"r":0.72},{"p":"F30","x":45000,"g":0.66,"b":0.23,"r":0.72},{"p":"F30","x":48000,"g":0.66,"b":0.21,"r":0.72},{"p":"F30","x":51000,"g":0.65,"b":0.22,"r":0.71},{"p":"F30","x":54000,"g":0.67,"b":0.23,"r":0.71},{"p":"F30","x":57000,"g":0.66,"b":0.21,"r":0.71},
{"p":"F30","x":60000,"g":0.67,"b":0.22,"r":0.70},{"p":"F30","x":63000,"g":0.66,"b":0.21,"r":0.70},{"p":"F30","x":66000,"g":0.66,"b":0.20,"r":0.70},{"p":"F30","x":69000,"g":0.65,"b":0.22,"r":0.69},{"p":"F30","x":72000,"g":0.67,"b":0.20,"r":0.69},{"p":"F30","x":75000,"g":0.66,"b":0.21,"r":0.70},{"p":"F30","x":78000,"g":0.66,"b":0.19,"r":0.69},{"p":"F30","x":81000,"g":0.65,"b":0.20,"r":0.69},{"p":"F30","x":84000,"g":0.67,"b":0.21,"r":0.68},{"p":"F30","x":87000,"g":0.66,"b":0.19,"r":0.69},
{"p":"F30","x":90000,"g":0.67,"b":0.20,"r":0.69},{"p":"F30","x":93000,"g":0.66,"b":0.18,"r":0.70},{"p":"F30","x":96000,"g":0.66,"b":0.19,"r":0.69},{"p":"F30","x":99000,"g":0.65,"b":0.18,"r":0.70},{"p":"F30","x":102000,"g":0.67,"b":0.17,"r":0.69},{"p":"F30","x":105000,"g":0.66,"b":0.16,"r":0.70},{"p":"F30","x":108000,"g":0.66,"b":0.17,"r":0.69},{"p":"F30","x":111000,"g":0.65,"b":0.18,"r":0.70},{"p":"F30","x":114000,"g":0.67,"b":0.19,"r":0.70},{"p":"F30","x":117000,"g":0.66,"b":0.20,"r":0.69},
{"p":"F30","x":120000,"g":0.67,"b":0.19,"r":0.70},{"p":"F30","x":123000,"g":0.66,"b":0.21,"r":0.69},{"p":"F30","x":126000,"g":0.66,"b":0.20,"r":0.70},{"p":"F30","x":129000,"g":0.65,"b":0.22,"r":0.70},{"p":"F30","x":132000,"g":0.67,"b":0.21,"r":0.69},{"p":"F30","x":135000,"g":0.66,"b":0.20,"r":0.70},{"p":"F30","x":138000,"g":0.66,"b":0.21,"r":0.70},{"p":"F30","x":141000,"g":0.65,"b":0.20,"r":0.69},{"p":"F30","x":144000,"g":0.64,"b":0.19,"r":0.70},{"p":"F30","x":147000,"g":0.62,"b":0.20,"r":0.70},
{"p":"F30","x":150000,"g":0.58,"b":0.18,"r":0.69},{"p":"F30","x":153000,"g":0.52,"b":0.17,"r":0.70},{"p":"F30","x":156000,"g":0.57,"b":0.16,"r":0.69},{"p":"F30","x":159000,"g":0.48,"b":0.15,"r":0.70},{"p":"F30","x":162000,"g":0.55,"b":0.14,"r":0.69},{"p":"F30","x":165000,"g":0.47,"b":0.13,"r":0.69},{"p":"F30","x":168000,"g":0.54,"b":0.12,"r":0.70},{"p":"F30","x":171000,"g":0.45,"b":0.11,"r":0.69},{"p":"F30","x":174000,"g":0.50,"b":0.10,"r":0.70},{"p":"F30","x":177000,"g":0.30,"b":0.09,"r":0.71},
{"p":"F30","x":180000,"g":0.52,"b":0.08,"r":0.72},{"p":"F30","x":183000,"g":0.25,"b":0.08,"r":0.74},{"p":"F30","x":186000,"g":0.48,"b":0.07,"r":0.75},{"p":"F30","x":189000,"g":0.22,"b":0.06,"r":0.73},{"p":"F30","x":192000,"g":0.45,"b":0.06,"r":0.71},{"p":"F30","x":195000,"g":0.30,"b":0.05,"r":0.70},{"p":"F30","x":198000,"g":0.50,"b":0.05,"r":0.72},{"p":"F30","x":201000,"g":0.20,"b":0.05,"r":0.75},{"p":"F30","x":204000,"g":0.48,"b":0.04,"r":0.72},{"p":"F30","x":207000,"g":0.25,"b":0.05,"r":0.68},
{"p":"F30","x":210000,"g":0.52,"b":0.06,"r":0.65},{"p":"F30","x":213000,"g":0.30,"b":0.12,"r":0.66},{"p":"F30","x":216000,"g":0.60,"b":0.32,"r":0.70},{"p":"F30","x":219000,"g":0.64,"b":0.36,"r":0.76},{"p":"F30","x":222000,"g":0.64,"b":0.38,"r":0.80},{"p":"F30","x":225000,"g":0.63,"b":0.35,"r":0.74},{"p":"F30","x":228000,"g":0.65,"b":0.40,"r":0.78},{"p":"F30","x":231000,"g":0.64,"b":0.37,"r":0.70},{"p":"F30","x":234000,"g":0.63,"b":0.42,"r":0.60},{"p":"F30","x":237000,"g":0.64,"b":0.38,"r":0.82},
{"p":"F30","x":240000,"g":0.65,"b":0.46,"r":0.68},{"p":"F30","x":243000,"g":0.63,"b":0.40,"r":0.55},{"p":"F30","x":246000,"g":0.64,"b":0.30,"r":0.48},{"p":"F30","x":249000,"g":0.64,"b":0.25,"r":0.72},{"p":"F30","x":252000,"g":0.63,"b":0.38,"r":0.66},{"p":"F30","x":255000,"g":0.65,"b":0.44,"r":0.80},{"p":"F30","x":258000,"g":0.64,"b":0.40,"r":0.92},{"p":"F30","x":261000,"g":0.63,"b":0.48,"r":1.00},{"p":"F30","x":264000,"g":0.64,"b":0.42,"r":0.94},{"p":"F30","x":267000,"g":0.65,"b":0.50,"r":0.88},
{"p":"F30","x":270000,"g":0.64,"b":0.40,"r":0.85},{"p":"F30","x":273000,"g":0.63,"b":0.55,"r":0.86},{"p":"F30","x":276000,"g":0.64,"b":0.42,"r":0.88},{"p":"F30","x":279000,"g":0.66,"b":0.62,"r":0.85},{"p":"F30","x":282000,"g":0.70,"b":0.45,"r":0.87},{"p":"F30","x":285000,"g":0.74,"b":0.70,"r":0.88},{"p":"F30","x":288000,"g":0.78,"b":0.48,"r":0.86},{"p":"F30","x":291000,"g":0.82,"b":0.85,"r":0.90},{"p":"F30","x":294000,"g":0.86,"b":0.50,"r":0.92},{"p":"F30","x":297000,"g":0.90,"b":0.00,"r":0.94},{"p":"F30","x":300000,"g":0.95,"b":1.00,"r":0.97},
{"p":"F30","x":217000,"b":0.40},{"p":"F30","x":218000,"b":0.30},{"p":"F30","x":220000,"b":0.42},{"p":"F30","x":221000,"b":0.32},{"p":"F30","x":223000,"b":0.44},{"p":"F30","x":224000,"b":0.33},{"p":"F30","x":226000,"b":0.45},{"p":"F30","x":227000,"b":0.34},{"p":"F30","x":229000,"b":0.33},{"p":"F30","x":230000,"b":0.45},{"p":"F30","x":232000,"b":0.46},{"p":"F30","x":233000,"b":0.34},{"p":"F30","x":235000,"b":0.35},{"p":"F30","x":236000,"b":0.47},{"p":"F30","x":238000,"b":0.48},{"p":"F30","x":239000,"b":0.36},{"p":"F30","x":241000,"b":0.36},{"p":"F30","x":242000,"b":0.48},{"p":"F30","x":244000,"b":0.45},{"p":"F30","x":245000,"b":0.33},{"p":"F30","x":247000,"b":0.38},{"p":"F30","x":248000,"b":0.27},{"p":"F30","x":250000,"b":0.40},{"p":"F30","x":251000,"b":0.30},{"p":"F30","x":253000,"b":0.46},{"p":"F30","x":254000,"b":0.34},{"p":"F30","x":256000,"b":0.36},{"p":"F30","x":257000,"b":0.50},{"p":"F30","x":259000,"b":0.52},{"p":"F30","x":260000,"b":0.38},{"p":"F30","x":262000,"b":0.40},{"p":"F30","x":263000,"b":0.54},{"p":"F30","x":265000,"b":0.56},{"p":"F30","x":266000,"b":0.38},{"p":"F30","x":268000,"b":0.38},{"p":"F30","x":269000,"b":0.58},{"p":"F30","x":271000,"b":0.60},{"p":"F30","x":272000,"b":0.40},
{"p":"F30","x":274000,"b":0.40},{"p":"F30","x":275000,"b":0.64},{"p":"F30","x":277000,"b":0.68},{"p":"F30","x":278000,"b":0.42},{"p":"F30","x":280000,"b":0.42},{"p":"F30","x":281000,"b":0.75},{"p":"F30","x":283000,"b":0.80},{"p":"F30","x":284000,"b":0.42},{"p":"F30","x":286000,"b":0.44},{"p":"F30","x":287000,"b":0.85},{"p":"F30","x":289000,"b":0.88},{"p":"F30","x":290000,"b":0.42},{"p":"F30","x":292000,"b":0.40},{"p":"F30","x":293000,"b":0.90},{"p":"F30","x":295000,"b":0.92},{"p":"F30","x":296000,"b":0.30},{"p":"F30","x":298000,"b":0.20},{"p":"F30","x":299000,"b":0.95}
]},
"facet":{"field":"p","type":"nominal","sort":["F6","F9","F15","F19","F22","F30"],"header":{"title":null,"labelFontSize":10,"labelPadding":-9,"labelFont":"DejaVu Sans","labelColor":"#111"}},
"columns":2,
"spacing":{"row":34,"column":47},
"bounds":"flush",
"resolve":{"axis":{"x":"independent","y":"independent"}},
"spec":{
"width":230,"height":66,
"encoding":{"x":{"field":"x","type":"quantitative","scale":{"domain":[0,300000],"nice":false},
"axis":{"values":[0,50000,100000,150000,200000,250000,300000],"format":",.0f","labelFlush":false,"title":"NFE","titleAlign":"center","titleBaseline":"middle","titleX":240,"titleY":18,"labelPadding":2}}},
"layer":[
{"mark":{"type":"line","strokeWidth":0.8,"strokeDash":[3,1.3],"clip":true,"invalid":"filter"},"encoding":{
"y":{"field":"g","type":"quantitative","scale":{"domain":[0,1.03],"nice":false},"axis":{"values":[0,0.5,1],"format":".1f","title":"F","titleAngle":0,"titleAlign":"center","titleBaseline":"middle","titleX":-13,"titleY":-8,"labelPadding":2}},
"color":{"datum":"MF value","type":"nominal","scale":{"domain":["MF value","Success Rate SR","SHA average memory MF"],"range":["#45dd45","#3a4ae0","#e82424"]},
"legend":{"orient":"none","legendX":-1,"legendY":283,"direction":"vertical","title":null}}}},
{"mark":{"type":"line","strokeWidth":0.9,"strokeDash":[4,1],"opacity":0.9,"clip":true,"invalid":"filter"},"encoding":{"y":{"field":"b","type":"quantitative"},"color":{"datum":"Success Rate SR","type":"nominal"}}},
{"mark":{"type":"line","strokeWidth":0.8,"strokeDash":[3,1.3],"clip":true,"invalid":"filter"},"encoding":{"y":{"field":"r","type":"quantitative"},"color":{"datum":"SHA average memory MF","type":"nominal"}}}
]},
"config":{
"font":"DejaVu Sans",
"view":{"stroke":"#333","strokeWidth":0.8},
"axis":{"labelFontSize":8,"labelColor":"#222","tickColor":"#333","tickSize":3,"domain":false,"gridColor":"#c8c8c8","gridWidth":0.8,"titleFontSize":8,"titleFontStyle":"italic","titleFontWeight":"normal","titleColor":"#222"},
"legend":{"strokeColor":"#ccc","fillColor":"white","padding":3,"cornerRadius":2,"symbolType":"M-0.85,0H0.85","symbolStrokeWidth":1,"symbolDash":[2,1.3],"symbolSize":81,"labelFontSize":8,"rowPadding":2,"labelColor":"#222","labelOffset":9}
}
}
